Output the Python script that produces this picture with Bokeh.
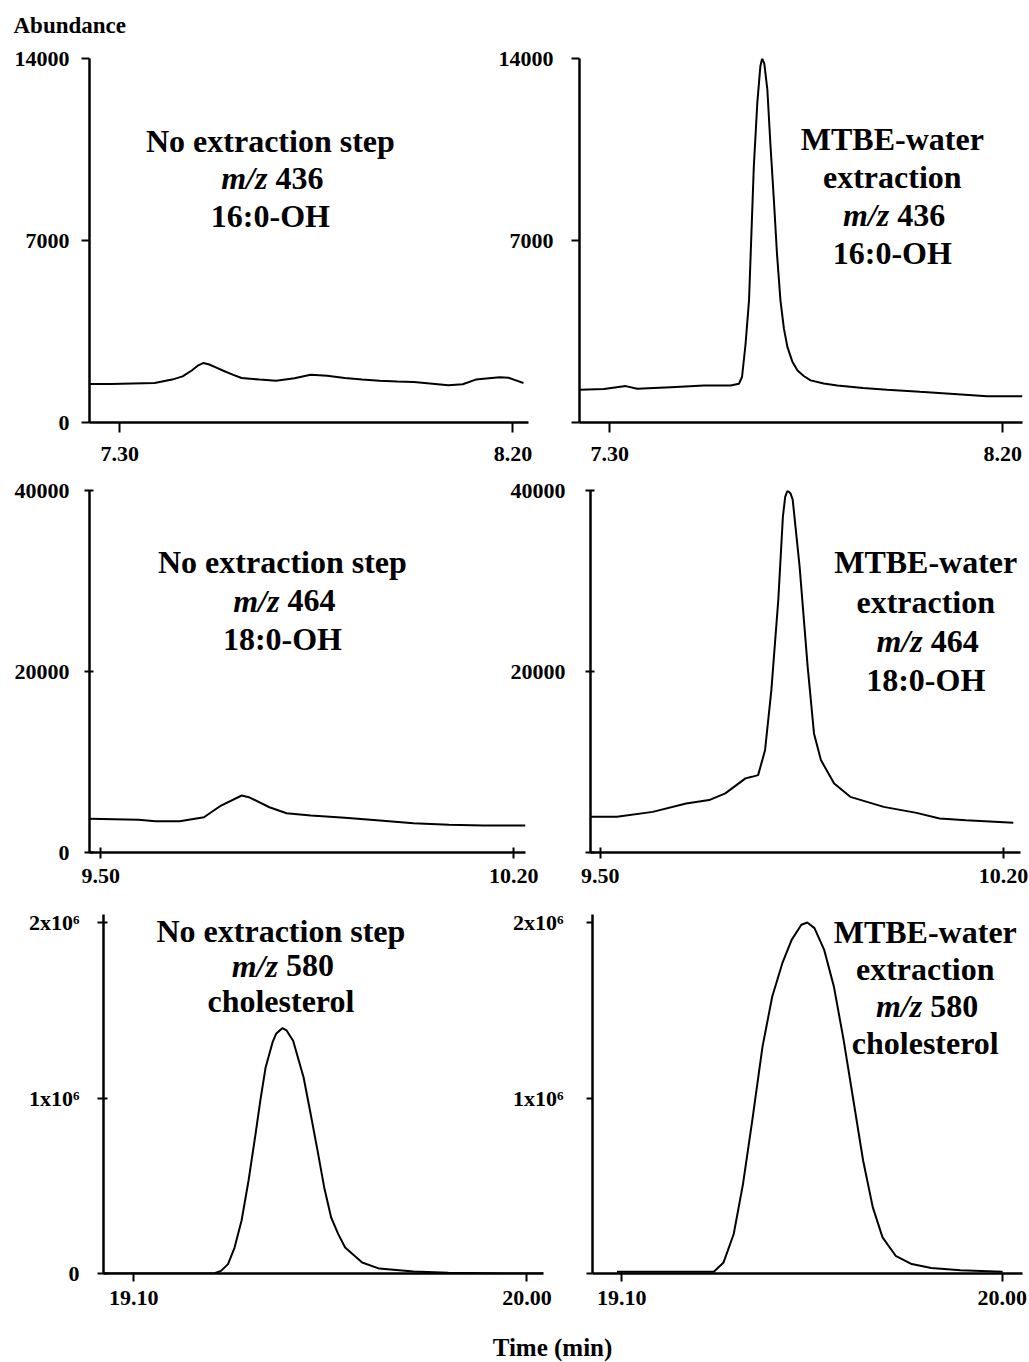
from bokeh.plotting import figure
from bokeh.layouts import column, row
from bokeh.models import Range1d, FixedTicker, CustomJSTickFormatter, PrintfTickFormatter, Label
from bokeh.embed import file_html
from bokeh.resources import INLINE

SERIF = "Liberation Serif"

# ---------------- data (time in min, abundance) ----------------
# m/z 436, 16:0-OH, no extraction step
t_436_none = [7.231, 7.28, 7.33, 7.38, 7.42, 7.444, 7.465, 7.48, 7.492, 7.505, 7.52, 7.54, 7.56, 7.579,
              7.62, 7.658, 7.70, 7.737, 7.775, 7.815, 7.855, 7.895, 7.935, 7.973, 8.01, 8.052, 8.085,
              8.115, 8.145, 8.17, 8.19, 8.202, 8.224]
a_436_none = [1480, 1480, 1500, 1520, 1650, 1775, 2000, 2200, 2290, 2230, 2120, 1970, 1830, 1710,
              1650, 1610, 1700, 1840, 1800, 1710, 1650, 1610, 1580, 1555, 1500, 1430, 1470,
              1650, 1700, 1740, 1720, 1650, 1520]
# m/z 436, 16:0-OH, MTBE-water extraction
t_436_mtbe = [7.232, 7.287, 7.337, 7.363, 7.44, 7.516, 7.577, 7.596, 7.603, 7.611, 7.619, 7.630, 7.638,
              7.645, 7.649, 7.654, 7.661, 7.668, 7.676, 7.683, 7.691, 7.699, 7.707, 7.718, 7.730, 7.745,
              7.760, 7.790, 7.821, 7.880, 7.935, 8.01, 8.088, 8.164, 8.245]
a_436_mtbe = [1260, 1290, 1400, 1300, 1360, 1420, 1420, 1490, 1750, 3000, 4690, 9840, 12300,
              13700, 14000, 13800, 12800, 10700, 8540, 6500, 4690, 3600, 2900, 2350, 2000, 1780,
              1620, 1500, 1420, 1330, 1260, 1180, 1100, 1010, 1010]
# m/z 464, 18:0-OH, no extraction step
t_464_none = [9.481, 9.564, 9.593, 9.634, 9.675, 9.704, 9.739, 9.751, 9.786, 9.815, 9.856, 9.914,
              9.973, 10.03, 10.09, 10.148, 10.22]
a_464_none = [3720, 3610, 3460, 3460, 3900, 5190, 6300, 6110, 5000, 4340, 4090, 3830,
              3540, 3240, 3060, 2980, 2980]
# m/z 464, 18:0-OH, MTBE-water extraction
t_464_mtbe = [9.484, 9.529, 9.591, 9.649, 9.689, 9.717, 9.752, 9.763, 9.774, 9.786, 9.797, 9.809,
              9.817, 9.821, 9.825, 9.830, 9.834, 9.846, 9.860, 9.871, 9.883, 9.906, 9.934, 9.992,
              10.049, 10.089, 10.135, 10.217]
a_464_mtbe = [3940, 3940, 4490, 5420, 5790, 6530, 8190, 8360, 8550, 11300, 17950, 27900,
              37100, 39300, 40000, 39700, 39000, 31600, 20530, 13160, 10210, 7630, 6150, 5040,
              4380, 3760, 3570, 3280]
# m/z 580, cholesterol, no extraction step
t_580_none = [19.031, 19.284, 19.300, 19.316, 19.331, 19.347, 19.363, 19.379, 19.390, 19.402, 19.418,
              19.426, 19.440, 19.450, 19.465, 19.489, 19.505, 19.521, 19.536, 19.552, 19.568, 19.584,
              19.623, 19.662, 19.741, 19.820, 19.946, 20.038]
a_580_none = [0, 0, 15000, 53600, 148000, 302000, 530000, 796000, 986000, 1174000, 1318000,
              1366000, 1398000, 1385000, 1326000, 1117000, 910000, 699000, 492000, 319000, 226000, 148000,
              63000, 28000, 11000, 4000, 0, 0]
# m/z 580, cholesterol, MTBE-water extraction
t_580_mtbe = [19.089, 19.318, 19.341, 19.365, 19.387, 19.41, 19.433, 19.456, 19.480, 19.502, 19.525,
              19.539, 19.556, 19.579, 19.602, 19.625, 19.648, 19.671, 19.694, 19.717, 19.748, 19.786,
              19.832, 19.901, 20.001]
a_580_mtbe = [10000, 10000, 63000, 225000, 511000, 891000, 1291000, 1577000, 1768000, 1901000, 1987000,
              2000000, 1968000, 1844000, 1634000, 1330000, 987000, 644000, 377000, 206000, 101000, 54000,
              31000, 19000, 10000]

# tick values / labels
x_ticks_436 = [7.30, 8.20]
x_ticks_464 = [9.50, 10.20]
x_ticks_580 = [19.10, 20.00]
y_ticks_436 = [0, 7000, 14000]
y_ticks_464 = [0, 20000, 40000]
y_ticks_580 = [0, 1000000, 2000000]

text_none_436 = ["No extraction step", "m/z 436", "16:0-OH"]
text_mtbe_436 = ["MTBE-water", "extraction", "m/z 436", "16:0-OH"]
text_none_464 = ["No extraction step", "m/z 464", "18:0-OH"]
text_mtbe_464 = ["MTBE-water", "extraction", "m/z 464", "18:0-OH"]
text_none_580 = ["No extraction step", "m/z 580", "cholesterol"]
text_mtbe_580 = ["MTBE-water", "extraction", "m/z 580", "cholesterol"]

FMT_PLAIN = "return tick.toFixed(0);"
FMT_PLAIN_NOZERO = "return tick == 0 ? '' : tick.toFixed(0);"
FMT_SCI = "return tick == 0 ? '0' : (tick/1e6).toFixed(0) + 'x10\\u2076';"
FMT_SCI_NOZERO = "return tick == 0 ? '' : (tick/1e6).toFixed(0) + 'x10\\u2076';"

TICK_FONT = "22px"
NOTE_FONT = "32px"


def make_panel(t, a, xr, yr, xt, yt, yfmt, size, borders, xtick, ytick, transparent=False):
    w, h = size
    bl, br, bt, bb = borders
    p = figure(width=w, height=h, output_backend="svg", toolbar_location=None,
               x_range=Range1d(*xr), y_range=Range1d(*yr),
               min_border_left=bl, min_border_right=br, min_border_top=bt, min_border_bottom=bb)
    p.line(t, a, line_color="black", line_width=2)
    p.xgrid.visible = False
    p.ygrid.visible = False
    p.outline_line_color = None
    if transparent:
        p.background_fill_alpha = 0
        p.border_fill_alpha = 0
        p.margin = (0, 0, 0, -80)
    p.xaxis.ticker = FixedTicker(ticks=xt, minor_ticks=[])
    p.yaxis.ticker = FixedTicker(ticks=yt, minor_ticks=[])
    p.xaxis.formatter = PrintfTickFormatter(format="%.2f")
    p.yaxis.formatter = CustomJSTickFormatter(code=yfmt)
    for ax in (p.xaxis[0], p.yaxis[0]):
        ax.axis_line_width = 2.5
        ax.axis_line_color = "black"
        ax.major_tick_line_width = 2
        ax.major_tick_line_color = "black"
        ax.minor_tick_line_color = None
        ax.major_label_text_font = SERIF
        ax.major_label_text_font_style = "bold"
        ax.major_label_text_font_size = TICK_FONT
        ax.major_label_text_color = "black"
    p.xaxis.major_tick_out, p.xaxis.major_tick_in, p.xaxis.major_label_standoff = xtick
    p.yaxis.major_tick_out, p.yaxis.major_tick_in, p.yaxis.major_label_standoff = ytick
    return p


def add_text(p, x, y, lines, spacing):
    for i, line in enumerate(lines):
        off = -spacing * i
        common = dict(x=x, y=y, y_offset=off, text_font=SERIF, text_font_size=NOTE_FONT,
                      text_color="black", text_baseline="middle")
        if line.startswith("m/z "):
            p.add_layout(Label(text="m/z", x_offset=-3, text_align="right",
                               text_font_style="bold italic", **common))
            p.add_layout(Label(text=line[4:], x_offset=5, text_align="left",
                               text_font_style="bold", **common))
        else:
            p.add_layout(Label(text=line, text_align="center", text_font_style="bold", **common))


Y580_TOP = 2045584  # axis extends a little above the 2x10^6 tick

# row 1
p1 = make_panel(t_436_none, a_436_none, (7.231, 8.2356), (0, 14000), x_ticks_436, y_ticks_436, FMT_PLAIN,
                (560, 429), (89, 32, 15, 50), (10, 0, 14), (8, 0, 12))
add_text(p1, 7.645, 10846, text_none_436, 37.5)
p2 = make_panel(t_436_mtbe, a_436_mtbe, (7.231, 8.245), (0, 14000), x_ticks_436, y_ticks_436, FMT_PLAIN_NOZERO,
                (549, 429), (99, 7, 15, 50), (10, 0, 14), (8, 0, 18), transparent=True)
add_text(p2, 7.947, 10923, text_mtbe_436, 38.3)

# row 2
p3 = make_panel(t_464_none, a_464_none, (9.481, 10.220), (0, 40000), x_ticks_464, y_ticks_464, FMT_PLAIN,
                (560, 422), (89, 35, 18, 42), (6, 5, 10), (5, 4, 15))
add_text(p3, 9.808, 32077, text_none_464, 38.3)
p4 = make_panel(t_464_mtbe, a_464_mtbe, (9.483, 10.2295), (0, 40000), x_ticks_464, y_ticks_464, FMT_PLAIN_NOZERO,
                (549, 422), (110, 9, 18, 42), (6, 5, 10), (5, 4, 20), transparent=True)
add_text(p4, 10.065, 32077, text_mtbe_464, 39.4)

# row 3
p5 = make_panel(t_580_none, a_580_none, (19.031, 20.038), (0, Y580_TOP), x_ticks_580, y_ticks_580, FMT_SCI,
                (560, 421), (103, 17, 20, 42), (8, 0, 9), (6, 4, 18))
add_text(p5, 19.437, 1954000, text_none_580, 35)
p6 = make_panel(t_580_mtbe, a_580_mtbe, (19.031, 20.048), (0, Y580_TOP), x_ticks_580, y_ticks_580, FMT_SCI_NOZERO,
                (549, 421), (112, 7, 20, 42), (8, 0, 9), (6, 0, 23), transparent=True)
add_text(p6, 19.818, 1944700, text_mtbe_580, 37)


def text_strip(h, txt, x, y, align, size):
    f = figure(width=1029, height=h, output_backend="svg", toolbar_location=None,
               x_range=Range1d(0, 1029), y_range=Range1d(0, h),
               x_axis_location=None, y_axis_location=None, min_border=0)
    f.xgrid.visible = False
    f.ygrid.visible = False
    f.outline_line_color = None
    f.add_layout(Label(x=x, y=y, text=txt, text_font=SERIF, text_font_style="bold",
                       text_font_size=size, text_align=align, text_baseline="middle", text_color="black"))
    return f


header = text_strip(43, "Abundance", 13, 18, "left", "23px")
footer = text_strip(47, "Time (min)", 552, 15, "center", "25px")

layout = column(header, row(p1, p2), row(p3, p4), row(p5, p6), footer)

open("out.html", "w", encoding="utf-8").write(file_html(layout, INLINE))
